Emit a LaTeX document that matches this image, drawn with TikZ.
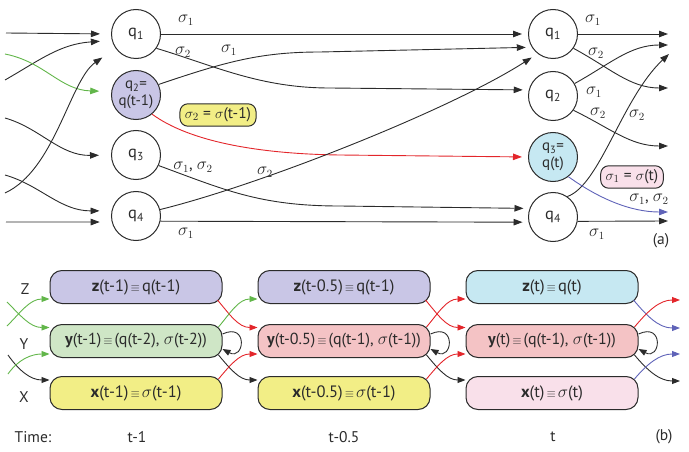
\documentclass[tikz,border=0pt]{standalone}
\usepackage{fontspec}
\setmainfont{PT Sans}
\usetikzlibrary{arrows.meta,calc}
\definecolor{lav}{HTML}{C9C6E6}
\definecolor{grnbox}{HTML}{CFE6C6}
\definecolor{yel}{HTML}{F2EE86}
\definecolor{pinkY}{HTML}{F4C3C5}
\definecolor{cyanZ}{HTML}{C6E8F2}
\definecolor{pinkX}{HTML}{F9E0EA}
\definecolor{lred}{HTML}{E3262B}
\definecolor{lgreen}{HTML}{62B64A}
\definecolor{lblue}{HTML}{5F63B8}
\definecolor{ink}{HTML}{2B2B2B}
\newcommand{\eqv}{\hspace{2pt}{\fontsize{12}{12}\selectfont$\equiv$}\hspace{2pt}}
\begin{document}
\begin{tikzpicture}[x=1pt,y=-1pt,
  font=\fontsize{15}{17}\selectfont, text=ink,
  st/.style={circle,draw=ink,line width=1pt,minimum size=49pt,inner sep=0pt,align=center,font=\fontsize{16.5}{16}\selectfont},
  st2/.style={st,font=\fontsize{15}{16.5}\selectfont},
  ed/.style={draw=ink,line width=0.9pt,-{Triangle[length=9pt,width=6.5pt]}},
  sig/.style={inner sep=0pt,font=\fontsize{16}{18}\selectfont},
  tag/.style={draw=ink,line width=1pt,rounded corners=8pt,inner xsep=5pt,inner ysep=4pt,font=\fontsize{15.5}{17}\selectfont},
  bx/.style={draw=ink,line width=1pt,rounded corners=12pt,minimum width=172pt,minimum height=33pt,inner sep=0pt,font=\fontsize{16.5}{18}\selectfont},
  bxy/.style={bx,font=\fontsize{16}{18}\selectfont},
  eb/.style={line width=0.9pt,-{Triangle[length=8pt,width=6pt]}},
  lab/.style={inner sep=0pt,font=\fontsize{15.5}{17}\selectfont}
]
\useasboundingbox (0,0) rectangle (689,452);

% ---------- part (a): states ----------
\node[st] (L1) at (136,34) {q\textsubscript{1}};
\node[st2,fill=lav] (L2) at (136,95) {q\textsubscript{2}=\\q(t-1)};
\node[st] (L3) at (136,155) {q\textsubscript{3}};
\node[st] (L4) at (136,216) {q\textsubscript{4}};
\node[st] (R1) at (553,34) {q\textsubscript{1}};
\node[st] (R2) at (553,96) {q\textsubscript{2}};
\node[st2,fill=cyanZ] (R3) at (553,157) {q\textsubscript{3}=\\q(t)};
\node[st] (R4) at (553,217) {q\textsubscript{4}};

% incoming free ends
\coordinate (i1) at (6,33);
\coordinate (i2) at (5,80);
\coordinate (i3) at (5,54);
\coordinate (i4) at (5,118);
\coordinate (i5) at (5,193);
\coordinate (i6) at (5,175);
\coordinate (i7) at (6,222);
\draw[ed,shorten >=11pt] (i1) -- (L1.west);
\draw[ed,shorten >=12pt] (i2) .. controls (40,60) and (60,44) .. (L1.195);
\draw[ed,draw=lgreen,shorten >=12pt] (i3) .. controls (45,62) and (60,90) .. (L2.172);
\draw[ed,shorten >=12pt] (i4) .. controls (40,128) and (60,156) .. (L3.180);
\draw[ed,shorten >=16pt] (i5) .. controls (55,170) and (70,80) .. (L1.215);
\draw[ed,shorten >=12pt] (i6) .. controls (40,185) and (60,211) .. (L4.168);
\draw[ed,shorten >=12pt] (i7) -- (L4.194);

% middle transitions
\draw[ed,shorten >=6pt] (L1.east) -- (R1.west);
\draw[ed,shorten >=6pt] (L1.-35) .. controls (215,66) and (260,88) .. (330,88) -- (R2.166);
\draw[ed,shorten >=6pt] (L2.25) .. controls (225,62) and (260,52) .. (320,52) -- (R1.212);
\draw[ed,draw=lred,shorten >=6pt] (L2.-50) .. controls (190,142) and (260,154) .. (340,155) -- (R3.west);
\draw[ed,shorten >=6pt] (L3.-25) .. controls (225,190) and (260,206) .. (340,206) -- (R4.160);
\draw[ed,shorten >=7pt] (L4.15) .. controls (260,185) and (450,110) .. (R1.232);
\draw[ed,shorten >=6pt] (L4.-12) -- (R4.192);

\node[sig] at (186,20) {$\sigma_1$};
\node[sig] at (183,52) {$\sigma_2$};
\node[sig] at (229,50) {$\sigma_1$};
\node[sig] at (193,167) {$\sigma_1$, $\sigma_2$};
\node[sig] at (265,172) {$\sigma_2$};
\node[sig] at (186,233) {$\sigma_1$};

% outgoing
\coordinate (o1) at (668,34);
\coordinate (o2) at (668,88);
\coordinate (o3) at (668,45);
\coordinate (o4) at (668,146);
\coordinate (o5) at (669,54);
\coordinate (o6) at (668,212);
\coordinate (o7) at (668,221);
\draw[ed] (R1.east) -- (o1);
\draw[ed] (R1.-35) .. controls (610,68) and (630,88) .. (o2);
\draw[ed] (R2.30) .. controls (610,64) and (630,45) .. (o3);
\draw[ed] (R2.-35) .. controls (610,128) and (630,146) .. (o4);
\draw[ed] (R4.55) .. controls (600,185) and (622,98) .. (o5);
\draw[ed,draw=lblue] (R3.-52) .. controls (598,198) and (630,212) .. (o6);
\draw[ed] (R4.-10) -- (o7);

\node[sig] at (593,20) {$\sigma_1$};
\node[sig] at (596,53) {$\sigma_2$};
\node[sig] at (594,92) {$\sigma_1$};
\node[sig] at (598,113) {$\sigma_2$};
\node[sig] at (637,115) {$\sigma_2$};
\node[sig] at (649,199) {$\sigma_1$, $\sigma_2$};
\node[sig] at (597,234) {$\sigma_1$};

\node[tag,fill=yel] (s2) at (218,115) {$\sigma_2$ = $\sigma$(t-1)};
\node[tag,fill=pinkX] (s1) at (632,177) {$\sigma_1$ = $\sigma$(t)};
\node[lab] (la) at (661,241) {(a)};

% ---------- part (b) ----------
\node[bx,fill=lav]     (Z1) at (136,287) {\textbf{z}(t-1)\eqv q(t-1)};
\node[bxy,fill=grnbox] (Y1) at (136,341) {\textbf{y}(t-1)\eqv(q(t-2), $\sigma$(t-2))};
\node[bx,fill=yel]     (X1) at (136,393) {\textbf{x}(t-1)\eqv$\sigma$(t-1)};
\node[bx,fill=lav]     (Z2) at (344,287) {\textbf{z}(t-0.5)\eqv q(t-1)};
\node[bxy,fill=pinkY]  (Y2) at (344,341) {\textbf{y}(t-0.5)\eqv(q(t-1), $\sigma$(t-1))};
\node[bx,fill=yel]     (X2) at (344,393) {\textbf{x}(t-0.5)\eqv$\sigma$(t-1)};
\node[bx,fill=cyanZ]   (Z3) at (552,287) {\textbf{z}(t)\eqv q(t)};
\node[bxy,fill=pinkY]  (Y3) at (552,341) {\textbf{y}(t)\eqv(q(t-1), $\sigma$(t-1))};
\node[bx,fill=pinkX]   (X3) at (552,393) {\textbf{x}(t)\eqv$\sigma$(t)};

\node[lab] (lz) at (25,289) {Z};
\node[lab] (ly) at (24,344) {Y};
\node[lab] (lx) at (24,397) {X};
\node[lab] (time) at (33,437) {Time:};
\node[lab] (t1) at (137,437) {t-1};
\node[lab] (t2) at (344,437) {t-0.5};
\node[lab] (t3) at (553,437) {t};
\node[lab] (lb) at (664,437) {(b)};

% left inputs
\coordinate (a1) at (7,302);
\coordinate (a2) at (7,326);
\coordinate (a3) at (8,355);
\coordinate (a4) at (8,374);
\draw[eb,lgreen] (a1) to[out=-45,in=180] ([yshift=-3.5pt]Y1.north west);
\draw[eb,lgreen] (a2) to[out=45,in=180] ([yshift=-12pt]Z1.west);
\draw[eb,ink] (a3) to[out=-55,in=180] ([yshift=-4pt]X1.north west);
\draw[eb,lgreen] (a4) to[out=55,in=180] ([yshift=4pt]Y1.south west);

% between columns 1 and 2
\draw[eb,lred] ([xshift=-5pt,yshift=4pt]Z1.south east) to[out=-50,in=180] ([yshift=-3.5pt]Y2.north west);
\draw[eb,lgreen] ([xshift=-4pt,yshift=-3pt]Y1.north east) to[out=50,in=180] ([yshift=-12pt]Z2.west);
\draw[eb,ink] ([xshift=-4pt,yshift=3pt]Y1.south east) to[out=-50,in=180] ([yshift=-4pt]X2.north west);
\draw[eb,lred] ([xshift=-4pt,yshift=-3pt]X1.north east) to[out=50,in=180] ([yshift=4pt]Y2.south west);
\draw[eb,ink] ([yshift=7pt]Y1.east) .. controls +(26,-12) and +(22,12) .. ([yshift=-8pt]Y1.east);

% between columns 2 and 3
\draw[eb,lred] ([xshift=-5pt,yshift=4pt]Z2.south east) to[out=-50,in=180] ([yshift=-3.5pt]Y3.north west);
\draw[eb,lred] ([xshift=-4pt,yshift=-3pt]Y2.north east) to[out=50,in=180] ([yshift=-12pt]Z3.west);
\draw[eb,ink] ([xshift=-4pt,yshift=3pt]Y2.south east) to[out=-50,in=180] ([yshift=-4pt]X3.north west);
\draw[eb,lred] ([xshift=-4pt,yshift=-3pt]X2.north east) to[out=50,in=180] ([yshift=4pt]Y3.south west);
\draw[eb,ink] ([yshift=7pt]Y2.east) .. controls +(26,-12) and +(22,12) .. ([yshift=-8pt]Y2.east);

% right outputs
\coordinate (c1) at (680,300);
\coordinate (c2) at (680,328);
\coordinate (c3) at (680,354);
\coordinate (c4) at (680,381);
\draw[eb,lblue] ([xshift=-5pt,yshift=4pt]Z3.south east) to[out=-50,in=180] (c2);
\draw[eb,lred] ([xshift=-4pt,yshift=-3pt]Y3.north east) to[out=50,in=180] (c1);
\draw[eb,ink] ([xshift=-4pt,yshift=3pt]Y3.south east) to[out=-50,in=180] (c4);
\draw[eb,lblue] ([xshift=-4pt,yshift=-3pt]X3.north east) to[out=50,in=180] (c3);
\draw[eb,ink] ([yshift=7pt]Y3.east) .. controls +(26,-12) and +(22,12) .. ([yshift=-8pt]Y3.east);
\end{tikzpicture}
\end{document}
